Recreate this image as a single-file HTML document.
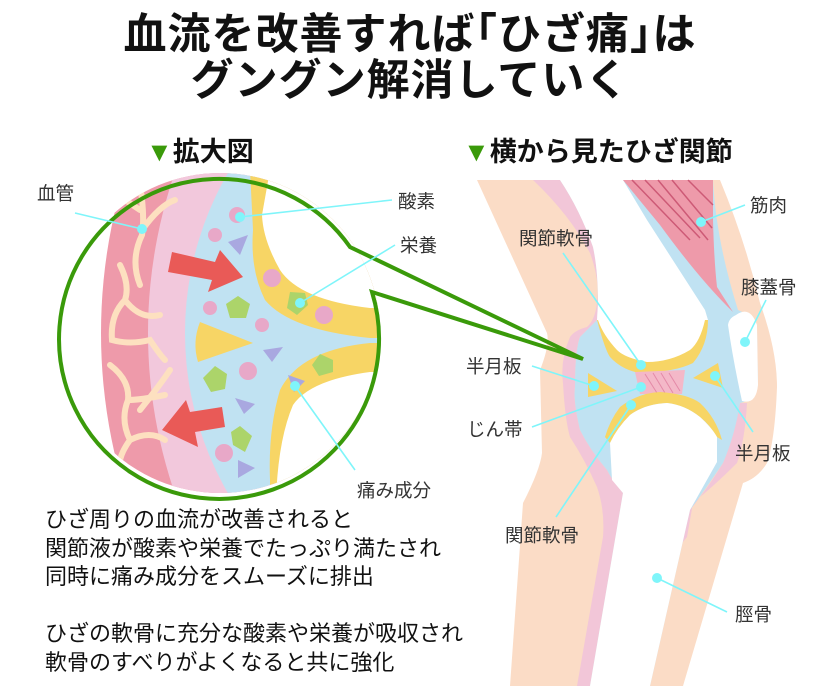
<!DOCTYPE html>
<html><head><meta charset="utf-8"><style>
body{margin:0;width:820px;height:686px;background:#fff;overflow:hidden;position:relative;font-family:"Liberation Sans","Noto Sans CJK JP",sans-serif;}
.t{position:absolute;white-space:nowrap;}
</style></head><body>
<div class="t" style="left:0;width:820px;text-align:center;top:12px;font-size:43px;font-weight:bold;line-height:46px;color:#111;letter-spacing:1px">血流を改善すれば｢ひざ痛｣は<br>グングン解消していく</div>
<div class="t" style="left:146px;top:130px;font-size:27px;font-weight:bold;color:#111"><span style="color:#3a9a0a">▼</span>拡大図</div>
<div class="t" style="left:463px;top:130px;font-size:27px;font-weight:bold;color:#111"><span style="color:#3a9a0a">▼</span>横から見たひざ関節</div>

<svg width="820" height="686" style="position:absolute;left:0;top:0">
<defs><clipPath id="c"><circle cx="220" cy="333" r="160"/></clipPath></defs>
<!-- knee -->
<g>
<path d="M477,180 L720,180 Q745,240 760,303 Q777,350 777,387 Q775,440 767,463 Q758,478 743,483 L683,686 L510,686 L523,503 Q540,470 542,453 L540,370 Q550,345 547,333 Z" fill="#fbdcc6"/>
<path d="M533,180 Q570,215 590,253 Q600,280 597,303 Q595,320 587,327 Q575,330 570,337 Q560,360 563,383 Q565,420 570,437 Q585,460 597,487 Q605,510 603,537 L577,686 L590,686 L623,493 Q612,480 607,470 Q590,450 580,430 Q573,400 575,387 Q575,350 580,337 L597,320 L598,303 Q598,270 593,247 Q580,210 560,180 Z" fill="#f2c6d8"/>
<path d="M747,403 Q745,440 737,463 Q715,485 693,503 L687,537 L682,543 L690,510 Q710,485 723,463 Q735,430 740,403 Z" fill="#f2c6d8"/>
<path d="M560,180 L713,180 Q716,240 738,310 Q757,318 757,330 L758,385 Q755,400 740,403 Q735,435 723,463 Q705,490 690,510 L650,686 L590,686 L623,493 Q612,480 607,470 Q590,450 580,430 Q573,400 575,387 Q575,350 580,337 L597,320 L598,303 Q598,270 593,247 Q580,210 560,180 Z" fill="#c0e2f2"/>
<path d="M560,180 L623,180 L647,220 L705,310 L708,320 Q705,360 640,373 Q612,367 597,320 L598,303 Q598,270 593,247 Q580,210 560,180 Z" fill="#fff"/>
<path d="M623,180 L713,180 Q713,200 713,220 Q714,260 717,287 L733,312 Q700,280 660,225 Z" fill="#ee9aaa"/>
<g stroke="#c8506e" stroke-width="1.5" opacity="0.85"><path d="M632,180 L690,240 M645,180 L700,238 M658,180 L708,240 M672,180 L712,228 M688,180 L713,205"/></g>
<path d="M597,320 Q605,350 610,357 Q622,370 640,373 Q675,372 693,363 Q708,345 708,320 L705,320 Q700,342 690,350 Q670,362 647,362 Q625,358 617,350 Q603,335 598,320 Z" fill="#f7d565"/>
<path d="M635,372 L685,370 L682,394 L640,394 Z" fill="#f4b8c8"/>
<g stroke="#e48aa8" stroke-width="1"><path d="M645,374 L657,393 M653,373 L665,393 M661,373 L673,393 M669,373 L680,391"/></g>
<path d="M605,437 Q610,420 620,407 Q638,393 660,392 Q688,394 700,403 Q716,418 722,440 L717,437 Q710,425 700,417 Q685,405 667,403 Q645,404 630,415 Q617,428 610,443 Z" fill="#f7d565"/>
<path d="M610,443 Q617,428 630,415 Q645,404 667,403 Q685,405 700,417 Q712,428 717,437 L717,462 L690,510 L650,686 L590,686 L623,493 L612,480 Z" fill="#fff"/>
<path d="M588,373 L617,391 L588,397 Z" fill="#f7d565"/>
<path d="M718,363 L693,378 L723,388 Z" fill="#f7d565"/>
<path d="M736,315 Q750,305 757,325 L758,385 Q756,405 742,401 Q733,360 728,325 Q729,318 736,315 Z" fill="#fff"/>
</g>
<!-- circle -->
<g clip-path="url(#c)">
<rect x="55" y="170" width="330" height="330" fill="#fff"/>
<circle cx="641" cy="333" r="540" fill="#ee9aaa"/>
<circle cx="641" cy="333" r="493" fill="#f2c8dc"/>
<circle cx="505" cy="333" r="320" fill="#c0e2f2"/>
<path d="M250,170 L400,170 L400,338 L370,338 Q290,330 265,300 Q250,270 253,230 Z" fill="#f7d565"/>
<path d="M270,170 L400,170 L400,308 L370,308 Q300,300 280,270 Q263,240 262,215 Z" fill="#fff"/>
<path d="M400,343 L370,343 Q300,350 280,390 Q268,430 270,480 L270,500 L400,500 Z" fill="#f7d565"/>
<path d="M400,372 L370,372 Q310,380 293,405 Q278,440 276,500 L400,500 Z" fill="#fff"/>
<path d="M200,322 L253,343 L198,362 Q192,342 200,322 Z" fill="#f7d565"/>
<g stroke="#fde0c0" stroke-width="6" fill="none" stroke-linecap="round">
<path d="M140,185 Q145,215 142,235 Q130,260 140,285 M142,230 Q160,205 175,200 M140,210 Q125,200 118,195"/>
<path d="M120,265 Q130,285 125,300 Q140,320 160,315 M125,300 Q110,315 112,340 Q130,345 150,340 Q160,355 165,360"/>
<path d="M110,365 Q130,380 128,400 Q140,400 165,395 M128,400 Q120,420 130,440 Q150,430 165,440 M130,440 Q115,460 120,480 M140,410 Q160,385 170,370"/>
</g>
<path d="M172,252 L215,262 L220,250 L243,277 L208,292 L212,280 L168,272 Z" fill="#e95a57"/>
<path d="M222,407 L190,412 L186,400 L162,430 L198,447 L195,432 L225,427 Z" fill="#e95a57"/>
<g fill="#e8a8c8"><circle cx="237" cy="215" r="8"/><circle cx="215" cy="235" r="7"/><circle cx="210" cy="308" r="7"/><circle cx="262" cy="325" r="7"/><circle cx="248" cy="371" r="9"/><circle cx="224" cy="453" r="9"/><circle cx="272" cy="278" r="9"/><circle cx="324" cy="315" r="9"/></g>
<g fill="#a9a8e0"><path d="M228,242 L248,235 L240,255 Z"/><path d="M263,350 L283,347 L272,362 Z"/><path d="M235,398 L255,404 L244,414 Z"/><path d="M238,460 L255,468 L238,478 Z"/><path d="M288,375 L305,381 L294,392 Z"/></g>
<g fill="#acd46a"><path d="M238,296 L250,304 L246,318 L230,318 L226,304 Z"/><path d="M215,366 L227,374 L225,389 L211,392 L203,378 Z"/><path d="M240,426 L252,436 L245,452 L233,445 L231,432 Z"/><path d="M290,292 L305,293 L308,305 L297,315 L287,308 Z"/><path d="M320,354 L333,360 L333,372 L319,376 L312,365 Z"/></g>
</g>
<path d="M350,247 A160,160 0 1,0 372,292 L583,359 Z" fill="none" stroke="#3a9a0a" stroke-width="4" stroke-linejoin="miter"/>
<!-- leaders -->
<g stroke="#7ff5fa" stroke-width="1.6" fill="none">
<path d="M75,213 L142,229 M392,200 L240,217 M395,245 L300,303 M355,470 L295,386"/>
<path d="M563,253 L641,365 M745,205 L701,222 M766,300 L745,342 M532,366 L594,386 M532,427 L641,387 M753,432 L715,376 M556,517 L631,405 M727,612 L657,578"/>
</g>
<g fill="#7ff5fa">
<circle cx="142" cy="229" r="5"/><circle cx="240" cy="217" r="5"/><circle cx="300" cy="303" r="5"/><circle cx="295" cy="386" r="5"/>
<circle cx="641" cy="365" r="5"/><circle cx="701" cy="222" r="5"/><circle cx="745" cy="342" r="5"/><circle cx="594" cy="386" r="5"/><circle cx="641" cy="387" r="5"/><circle cx="715" cy="376" r="5"/><circle cx="631" cy="405" r="5"/><circle cx="657" cy="578" r="5"/>
</g>
</svg>

<div style="color:#333;font-size:18.5px">
<div class="t" style="left:37px;top:180px">血管</div>
<div class="t" style="left:398px;top:188px">酸素</div>
<div class="t" style="left:400px;top:232px">栄養</div>
<div class="t" style="left:357px;top:477px">痛み成分</div>
<div class="t" style="left:519px;top:225px">関節軟骨</div>
<div class="t" style="left:750px;top:192px">筋肉</div>
<div class="t" style="left:741px;top:274px">膝蓋骨</div>
<div class="t" style="left:466px;top:353px">半月板</div>
<div class="t" style="left:467px;top:416px">じん帯</div>
<div class="t" style="left:735px;top:440px">半月板</div>
<div class="t" style="left:505px;top:522px">関節軟骨</div>
<div class="t" style="left:735px;top:601px">脛骨</div>
</div>
<div class="t" style="left:45px;top:506px;font-size:22px;line-height:28.5px;color:#111">ひざ周りの血流が改善されると<br>関節液が酸素や栄養でたっぷり満たされ<br>同時に痛み成分をスムーズに排出<br><br>ひざの軟骨に充分な酸素や栄養が吸収され<br>軟骨のすべりがよくなると共に強化</div>
</body></html>
